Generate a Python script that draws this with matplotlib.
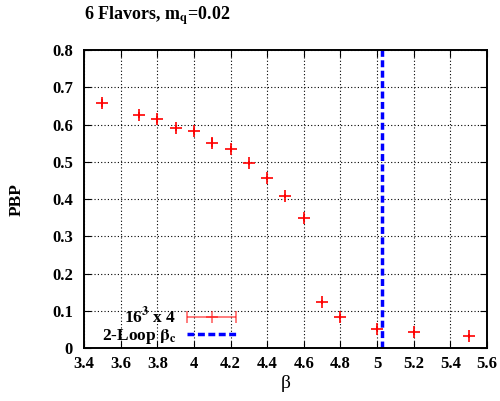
import numpy as np
import matplotlib.pyplot as plt
from matplotlib.legend_handler import HandlerErrorbar

plt.rcParams['font.family'] = ['Liberation Serif', 'DejaVu Serif']
plt.rcParams['mathtext.fontset'] = 'stix'

# data
beta = [3.5, 3.7, 3.8, 3.9, 4.0, 4.1, 4.2, 4.3, 4.4, 4.5, 4.6, 4.7, 4.8, 5.0, 5.2, 5.5]
pbp = [0.658, 0.627, 0.614, 0.591, 0.583, 0.551, 0.535, 0.497, 0.457, 0.408, 0.348,
       0.124, 0.083, 0.052, 0.042, 0.032]
pbp_err = [0.010, 0.008, 0.010, 0.009, 0.008, 0.012, 0.008, 0.005, 0.006, 0.006, 0.008,
           0.006, 0.006, 0.006, 0.006, 0.006]
beta_c = 5.025

fig = plt.figure(figsize=(5, 4.01), dpi=100)
ax = fig.add_axes([0.168, 0.132, 0.806, 0.743])

ax.errorbar(beta, pbp, yerr=pbp_err, fmt='+', color='red', ms=9, mew=1.2,
            elinewidth=1.2, capsize=0)
ax.axvline(beta_c, color='blue', ls=(0, (2, 1)), lw=2.5)

# proxies for the key
h1 = ax.errorbar([np.nan], [np.nan], xerr=[0.1], fmt='+', color='red', ms=9,
                 mew=1.2, elinewidth=1.2, capsize=4, alpha=0.6)
h2, = ax.plot([], [], color='blue', ls=(0, (2, 1)), lw=2.5)
ax.legend([h1, h2], [r'16$^{\mathbf{3}}$ x 4', r'2-Loop $\mathbf{\beta_c}$'],
          loc='lower left', bbox_to_anchor=(0.005, -0.045), markerfirst=False,
          frameon=False, handlelength=2.9, labelspacing=0.0, handletextpad=0.6,
          numpoints=1, handler_map={h1: HandlerErrorbar(xerr_size=1.4)},
          prop={'weight': 'bold', 'size': 12.5})

ax.set_xlim(3.4, 5.6)
ax.set_ylim(0, 0.8)
ax.set_xticks(np.arange(3.4, 5.61, 0.2))
ax.set_xticklabels(['3.4', '3.6', '3.8', '4', '4.2', '4.4', '4.6', '4.8', '5', '5.2', '5.4', '5.6'])
ax.set_yticks(np.arange(0, 0.81, 0.1))
ax.set_yticklabels(['0', '0.1', '0.2', '0.3', '0.4', '0.5', '0.6', '0.7', '0.8'])
ax.tick_params(direction='in', top=True, right=True, length=5, labelsize=12)
ax.tick_params(axis='x', pad=6)
ax.tick_params(axis='y', pad=8)
for lab in ax.get_xticklabels() + ax.get_yticklabels():
    lab.set_fontweight('bold')
ax.grid(True, color='black', ls=(0, (1, 2)), lw=0.8)
for s in ax.spines.values():
    s.set_linewidth(1.4)

ax.set_xlabel('β', fontsize=14, labelpad=2)
ax.set_ylabel('PBP', fontsize=12.5, fontweight='bold', labelpad=20)
fig.text(0.314, 0.962, r'6 Flavors, m$_{\mathbf{q}}$=0.02', ha='center', va='center',
         fontsize=13, fontweight='bold')

fig.savefig('out.png')
